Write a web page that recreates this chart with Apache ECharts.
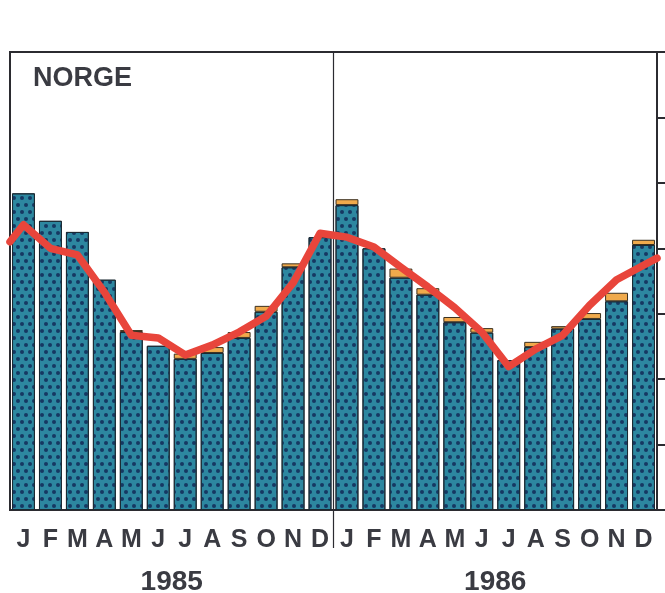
<!DOCTYPE html>
<html>
<head>
<meta charset="utf-8">
<script src="https://cdn.jsdelivr.net/npm/echarts@6/dist/echarts.min.js"></script>
<style>
  html, body { margin: 0; padding: 0; background: #fff; }
  #chart { width: 665px; height: 593px; }
</style>
</head>
<body>
<div id="chart"></div>
<script>
// months, Jan 1985 - Dec 1986
var months = ['J', 'F', 'M', 'A', 'M', 'J', 'J', 'A', 'S', 'O', 'N', 'D',
              'J', 'F', 'M', 'A', 'M', 'J', 'J', 'A', 'S', 'O', 'N', 'D'];
var years = ['1985', '1986'];

// teal part of each bar
var mainValues = [48.4, 44.2, 42.5, 35.2, 27.2, 25.1, 23.1, 24.0, 26.3, 30.3, 37.1, 41.7,
                  46.6, 40.0, 35.5, 32.9, 28.7, 27.1, 22.9, 24.9, 27.7, 29.2, 31.9, 40.5];
// small yellow cap on top
var extraValues = [null, null, null, null, 0.3, null, 0.8, 0.9, 0.9, 0.9, 0.6, null,
                   0.9, null, 1.4, 1.0, 0.8, 0.7, null, 0.8, 0.4, 0.9, 1.3, 0.8];

// red trend line (position in months from start of 1985)
var trendPos = [0, 0.5, 1.5, 2.5, 3.5, 4.5, 5.5, 6.5, 7.5, 8.5, 9.5, 10.5, 11.5, 12,
                12.5, 13.5, 14.5, 15.5, 16.5, 17.5, 18.5, 19.5, 20.5, 21.5, 22.5, 23.5, 24];
var trendValues = [41.0, 43.6, 40.0, 39.0, 33.3, 26.7, 26.3, 23.7, 25.2, 27.2, 29.6, 34.7, 42.3, 42.0,
                   41.7, 40.2, 37.1, 34.1, 30.9, 27.2, 21.9, 24.6, 26.7, 31.3, 35.2, 37.4, 38.5];

// year boundary (in months)
var yearBreak = 12;

var title = 'NORGE';

var trendData = trendPos.map(function (p, i) { return [p, trendValues[i]]; });

var chart = echarts.init(document.getElementById('chart'));

var option = {
  animation: false,
  backgroundColor: '#ffffff',
  title: {
    text: title,
    left: 28,
    top: 60,
    textStyle: { fontFamily: 'Liberation Sans', fontSize: 27, fontWeight: 'bold', color: '#3a3b42' }
  },
  grid: [
    {
      left: 10, right: 8, top: 52, bottom: 83,
      outerBoundsMode: 'none',
      containLabel: false,
      show: true,
      borderColor: '#2b2b30',
      borderWidth: 2
    },
    // taller helper grid, only for the year divider that runs into the labels
    { left: 10, right: 8, top: 52, bottom: 45, outerBoundsMode: 'none', containLabel: false }
  ],
  xAxis: [
    {
      type: 'category',
      data: months,
      position: 'bottom',
      axisLine: { lineStyle: { color: '#2b2b30', width: 2 } },
      axisTick: { length: 8, lineStyle: { color: '#2b2b30', width: 1 } },
      axisLabel: {
        interval: 0, margin: 18,
        fontFamily: 'Liberation Sans', fontSize: 25, fontWeight: 'bold', color: '#3a3b42'
      }
    },
    {
      type: 'category',
      data: years,
      position: 'bottom',
      axisLine: { show: false },
      axisTick: { show: false },
      axisLabel: {
        margin: 58,
        fontFamily: 'Liberation Sans', fontSize: 28, fontWeight: 'bold', color: '#3a3b42'
      }
    },
    {
      type: 'value',
      min: 0, max: 24,
      show: false
    },
    {
      type: 'value',
      gridIndex: 1,
      min: 0, max: 24,
      show: false
    }
  ],
  yAxis: [
    {
      type: 'value',
      position: 'right',
      min: 0, max: 70, interval: 10,
      axisLine: { show: true, onZero: false, lineStyle: { color: '#2b2b30', width: 2 } },
      axisTick: { show: true, inside: false, length: 8, lineStyle: { color: '#2b2b30', width: 2 } },
      axisLabel: { show: false },
      splitLine: { show: false }
    },
    {
      type: 'value',
      gridIndex: 1,
      min: 0, max: 1,
      show: false
    }
  ],
  series: [
    {
      type: 'bar',
      stack: 'total',
      xAxisIndex: 0,
      data: mainValues,
      barCategoryGap: '15%',
      itemStyle: {
        color: '#2d87a0',
        borderColor: '#1b2a33',
        borderWidth: 1,
        decal: {
          symbol: 'circle',
          symbolSize: 1,
          color: '#163862',
          dashArrayX: [[3.5, 3.5], [0, 3.5, 3.5, 0]],
          dashArrayY: [3.5, 2.5]
        }
      }
    },
    {
      type: 'bar',
      stack: 'total',
      xAxisIndex: 0,
      data: extraValues,
      itemStyle: {
        color: '#f0aa4c',
        borderColor: '#3a3020',
        borderWidth: 1
      }
    },
    {
      type: 'line',
      xAxisIndex: 2,
      data: trendData,
      showSymbol: false,
      symbol: 'none',
      z: 5,
      lineStyle: { color: '#e8453b', width: 7.5, join: 'round', cap: 'round' },
      itemStyle: { color: '#e8453b' }
    },
    {
      type: 'line',
      xAxisIndex: 3,
      yAxisIndex: 1,
      data: [],
      markLine: {
        silent: true,
        symbol: 'none',
        label: { show: false },
        lineStyle: { color: '#2b2b30', width: 1.2, type: 'solid' },
        data: [{ xAxis: yearBreak }]
      }
    }
  ]
};

chart.setOption(option);
</script>
</body>
</html>
